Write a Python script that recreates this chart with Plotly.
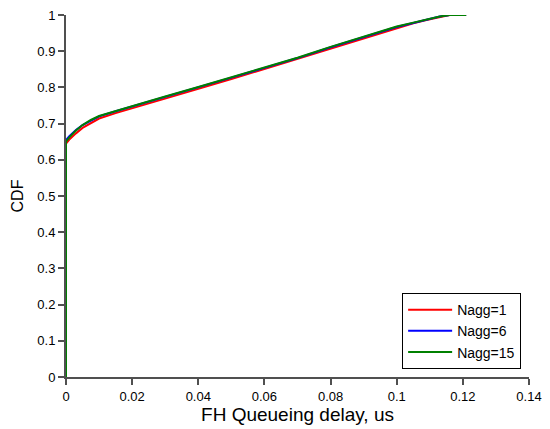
import plotly.graph_objects as go

# CDF du délai de file d'attente FH pour différents Nagg
delay_us = [0, 0, 0.001, 0.002, 0.003, 0.005, 0.0075, 0.01, 0.015, 0.02, 0.03,
            0.04, 0.05, 0.06, 0.07, 0.08, 0.09, 0.1, 0.105, 0.109, 0.113,
            0.116, 0.121]
cdf_nagg1 = [0, 0.645, 0.656, 0.665, 0.673, 0.688, 0.702, 0.714, 0.729, 0.742,
             0.770, 0.796, 0.823, 0.851, 0.879, 0.908, 0.937, 0.965, 0.977,
             0.986, 0.995, 1.0, 1.0]
cdf_nagg6 = [0, 0.655, 0.665, 0.674, 0.682, 0.696, 0.709, 0.720, 0.734, 0.747,
             0.774, 0.800, 0.827, 0.854, 0.881, 0.911, 0.939, 0.967, 0.978,
             0.987, 0.996, 1.0, 1.0]
cdf_nagg15 = [0, 0.650, 0.662, 0.672, 0.681, 0.696, 0.710, 0.721, 0.735, 0.748,
              0.775, 0.801, 0.828, 0.855, 0.882, 0.912, 0.940, 0.968, 0.979,
              0.988, 0.996, 1.0, 1.0]

series = [
    ("Nagg=1", cdf_nagg1, "#ff0000"),
    ("Nagg=6", cdf_nagg6, "#0000ff"),
    ("Nagg=15", cdf_nagg15, "#008000"),
]

fig = go.Figure()
for name, y, color in series:
    fig.add_trace(go.Scatter(
        x=delay_us, y=y, mode="lines", name=name,
        line=dict(color=color, width=2),
    ))

axis_style = dict(
    showline=True, linecolor="#505050", linewidth=2,
    ticks="outside", ticklen=6, tickwidth=1.5, tickcolor="#505050",
    showgrid=False, zeroline=False,
    tickfont=dict(size=13, color="#000000"),
)

fig.update_layout(
    width=550, height=429,
    paper_bgcolor="white", plot_bgcolor="white",
    font=dict(family="Liberation Sans, Arial, sans-serif", color="#000000"),
    margin=dict(l=66, r=13, t=8, b=52),
    xaxis=dict(title=dict(text="FH Queueing delay, us", standoff=4,
                          font=dict(size=19, color="#000000")),
               range=[0, 0.14], dtick=0.02, **axis_style),
    yaxis=dict(title=dict(text="CDF", standoff=10,
                          font=dict(size=16, color="#000000")),
               range=[0, 1], dtick=0.1, **axis_style),
    legend=dict(
        x=0.983, y=0.022, xanchor="right", yanchor="bottom",
        bgcolor="white", bordercolor="#000000", borderwidth=1,
        font=dict(size=14), itemwidth=44, tracegroupgap=0,
    ),
)

# la page a une marge par défaut de 8px : on la retire
fig.write_html("out.html", config={"displayModeBar": False},
               post_script="document.body.style.margin='0';")
